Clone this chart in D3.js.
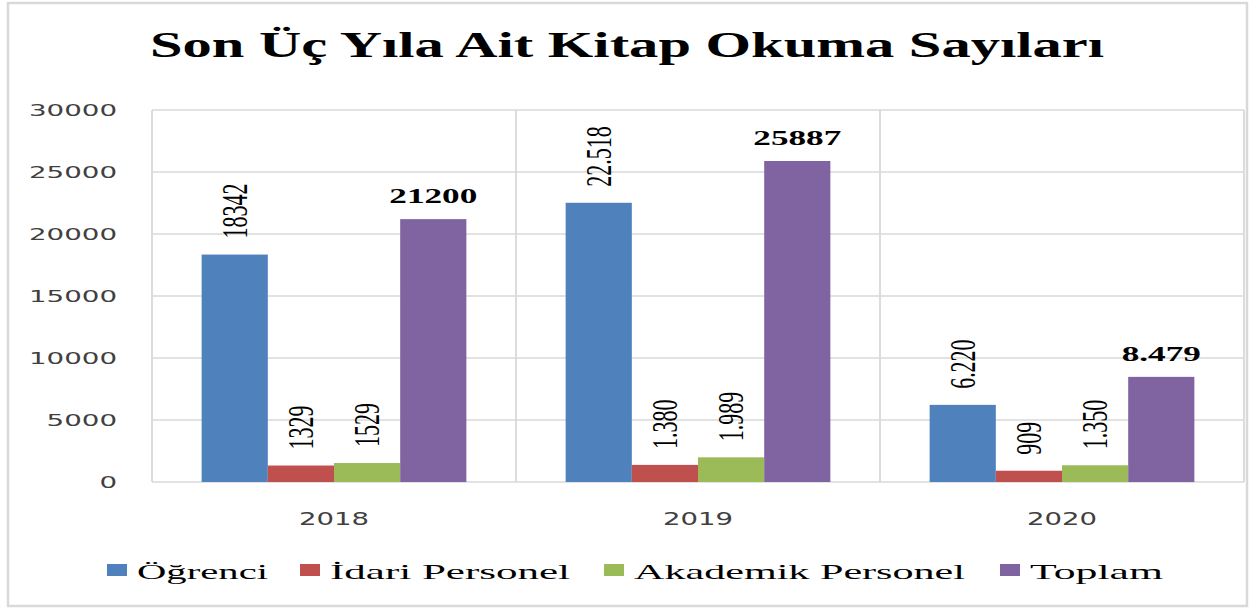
<!DOCTYPE html>
<html><head><meta charset="utf-8">
<script src="https://cdn.jsdelivr.net/npm/d3@7"></script>
<style>body{margin:0;background:#fff}svg{display:block}</style>
</head><body>
<svg id="c" width="1254" height="610"></svg>
<script>
const years = ["2018", "2019", "2020"];
const series = ["Öğrenci", "İdari Personel", "Akademik Personel", "Toplam"];
const colors = ["#4F81BD", "#C0504D", "#9BBB59", "#8064A2"];
const ogrenci = [18342, 22518, 6220];
const idari = [1329, 1380, 909];
const akademik = [1529, 1989, 1350];
const toplam = [21200, 25887, 8479];
const labelsOgrenci = ["18342", "22.518", "6.220"];
const labelsIdari = ["1329", "1.380", "909"];
const labelsAkademik = ["1529", "1.989", "1.350"];
const labelsToplam = ["21200", "25887", "8.479"];
const yTicks = [0, 5000, 10000, 15000, 20000, 25000, 30000];
const title = "Son Üç Yıla Ait Kitap Okuma Sayıları";

const values = [ogrenci, idari, akademik, toplam];
const labels = [labelsOgrenci, labelsIdari, labelsAkademik, labelsToplam];

const svg = d3.select("#c");
const SX = 1.6;
const grid = "#d9d9d9";

// outer frame
svg.append("rect").attr("x", 8).attr("y", 3).attr("width", 1239).attr("height", 603)
  .attr("fill", "#fff").attr("stroke", grid).attr("stroke-width", 2.5);

// title
svg.append("text").attr("x", 150).attr("y", 57)
  .attr("font-family", "Liberation Serif, Times New Roman, serif")
  .attr("font-weight", "bold").attr("font-size", 35)
  .attr("textLength", 954).attr("lengthAdjust", "spacingAndGlyphs")
  .text(title);

const x0 = d3.scaleBand().domain(years).range([152, 1244]).paddingInner(0).paddingOuter(0);
const x1 = d3.scaleBand().domain(series).range([0, x0.bandwidth()]).paddingInner(0).paddingOuter(0.75);
const y = d3.scaleLinear().domain([0, 30000]).range([482, 110]);

// horizontal gridlines
svg.append("g").selectAll("line").data(yTicks).join("line")
  .attr("x1", 152).attr("x2", 1244)
  .attr("y1", d => y(d)).attr("y2", d => y(d))
  .attr("stroke", grid).attr("stroke-width", 1.6);

// vertical separators
const seps = years.map(d => x0(d)).concat([x0(years[years.length - 1]) + x0.bandwidth()]);
svg.append("g").selectAll("line").data(seps).join("line")
  .attr("x1", d => d).attr("x2", d => d).attr("y1", y(30000)).attr("y2", y(0))
  .attr("stroke", grid).attr("stroke-width", 1.8);

// y tick labels
svg.append("g").selectAll("text").data(yTicks).join("text")
  .attr("x", 117).attr("y", d => y(d) + 6)
  .attr("text-anchor", "end")
  .attr("font-family", "DejaVu Sans, Verdana, sans-serif").attr("font-size", 16.5)
  .attr("fill", "#404040")
  .attr("textLength", d => String(d).length * 17.6).attr("lengthAdjust", "spacingAndGlyphs")
  .text(d => d);

// year labels
svg.append("g").selectAll("text").data(years).join("text")
  .attr("x", d => x0(d) + x0.bandwidth() / 2).attr("y", 525)
  .attr("text-anchor", "middle")
  .attr("font-family", "DejaVu Sans, Verdana, sans-serif").attr("font-size", 18)
  .attr("fill", "#404040")
  .attr("textLength", 70).attr("lengthAdjust", "spacingAndGlyphs")
  .text(d => d);

// bars
const bars = [];
years.forEach((yr, i) => series.forEach((s, j) => bars.push({yr, s, j, v: values[j][i], lab: labels[j][i]})));

svg.append("g").selectAll("rect").data(bars).join("rect")
  .attr("x", d => x0(d.yr) + x1(d.s)).attr("width", x1.bandwidth())
  .attr("y", d => y(d.v)).attr("height", d => y(0) - y(d.v))
  .attr("fill", d => colors[d.j]);

// rotated data labels (first three series)
svg.append("g").selectAll("text").data(bars.filter(d => d.j < 3)).join("text")
  .attr("transform", d => `translate(${x0(d.yr) + x1(d.s) + x1.bandwidth() / 2},${y(d.v) - 16}) scale(${SX},1) rotate(-90)`)
  .attr("dy", "0.34em")
  .attr("font-family", "Liberation Serif, Times New Roman, serif").attr("font-size", 22)
  .attr("fill", "#000")
  .text(d => d.lab);

// horizontal bold labels (Toplam)
svg.append("g").selectAll("text").data(bars.filter(d => d.j === 3)).join("text")
  .attr("transform", d => `translate(${x0(d.yr) + x1(d.s) + x1.bandwidth() / 2},${y(d.v) - 16}) scale(${SX},1)`)
  .attr("text-anchor", "middle")
  .attr("font-family", "Liberation Serif, Times New Roman, serif").attr("font-size", 22)
  .attr("font-weight", "bold").attr("fill", "#000")
  .text(d => d.lab);

// legend
const legX = [137, 330, 634, 1030];
const legW = [131, 240, 331, 133];
const leg = svg.append("g").selectAll("g").data(series).join("g");
leg.append("rect").attr("x", (d, i) => legX[i] - 30).attr("y", 564).attr("width", 20).attr("height", 12)
  .attr("fill", (d, i) => colors[i]);
leg.append("text").attr("x", (d, i) => legX[i]).attr("y", 579)
  .attr("font-family", "Liberation Serif, Times New Roman, serif").attr("font-size", 21)
  .attr("fill", "#000")
  .attr("textLength", (d, i) => legW[i]).attr("lengthAdjust", "spacingAndGlyphs")
  .text(d => d);
</script>
</body></html>
